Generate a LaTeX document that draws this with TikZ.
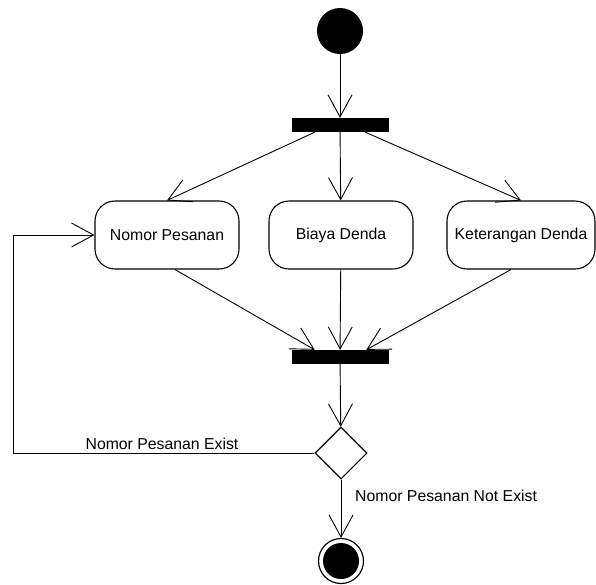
\documentclass[tikz,border=0pt]{standalone}
\usepackage{fontspec}
\setmainfont{Liberation Sans}
\usetikzlibrary{arrows.meta,shapes.geometric,calc}
\tikzset{
	act/.style={draw,rounded corners=20pt,line width=1.1pt,minimum width=144pt,minimum height=68pt,inner sep=0pt},
	bar/.style={fill,inner sep=0pt,minimum width=97pt,minimum height=14pt},
	dec/.style={diamond,draw,line width=1.1pt,aspect=1,minimum width=52pt,minimum height=52pt,inner sep=0pt},
	flow/.style={line width=0.9pt,-{Straight Barb[length=22pt,width=24pt,line width=0.9pt]}}
}
\begin{document}
\begin{tikzpicture}[x=1pt,y=-1pt,font=\fontsize{15.8}{18}\selectfont]
	\useasboundingbox (0,0) rectangle (596,584);
	\node [circle,fill,minimum size=46pt,inner sep=0pt] (start) at (340,31) {};
	\node [bar] (fork) at (340,125) {};
	\node [act] (nomor) at (167,235) {Nomor Pesanan};
	\node [act] (biaya) at (341,235) {Biaya Denda};
	\node [act,minimum width=148pt] (ket) at (521,235) {Keterangan Denda};
	\node [bar] (join) at (340,357) {};
	\node [dec] (cek) at (341,453) {};
	\node [circle,draw,line width=1.2pt,minimum size=45pt,inner sep=0pt] (stop) at (341,561) {};
	\fill (stop.center) circle (18pt);

	\draw [flow] (start) -- (fork);
	\draw [flow] ($(fork.south west)!0.24!(fork.south east)$) -- (nomor.north);
	\draw [flow] (fork) -- (biaya);
	\draw [flow] ($(fork.south west)!0.76!(fork.south east)$) -- (ket.north);
	\draw [flow] ($(nomor.south)+(8,0)$) -- ($(join.north west)!0.24!(join.north east)$);
	\draw [flow] (biaya) -- (join);
	\draw [flow] ($(ket.south)+(-10,0)$) -- ($(join.north west)!0.77!(join.north east)$);
	\draw [flow] (join) -- (cek);
	\draw [flow] (cek) -- (stop);

	\coordinate (loop) at (13,453);
	\draw [flow] (cek.west) -- (loop) |- (nomor.west);
	\node [anchor=base] (yes) at (162,449) {Nomor Pesanan Exist};
	\node [anchor=west,inner sep=0pt] (no) at (355,496) {Nomor Pesanan Not Exist};
\end{tikzpicture}
\end{document}
